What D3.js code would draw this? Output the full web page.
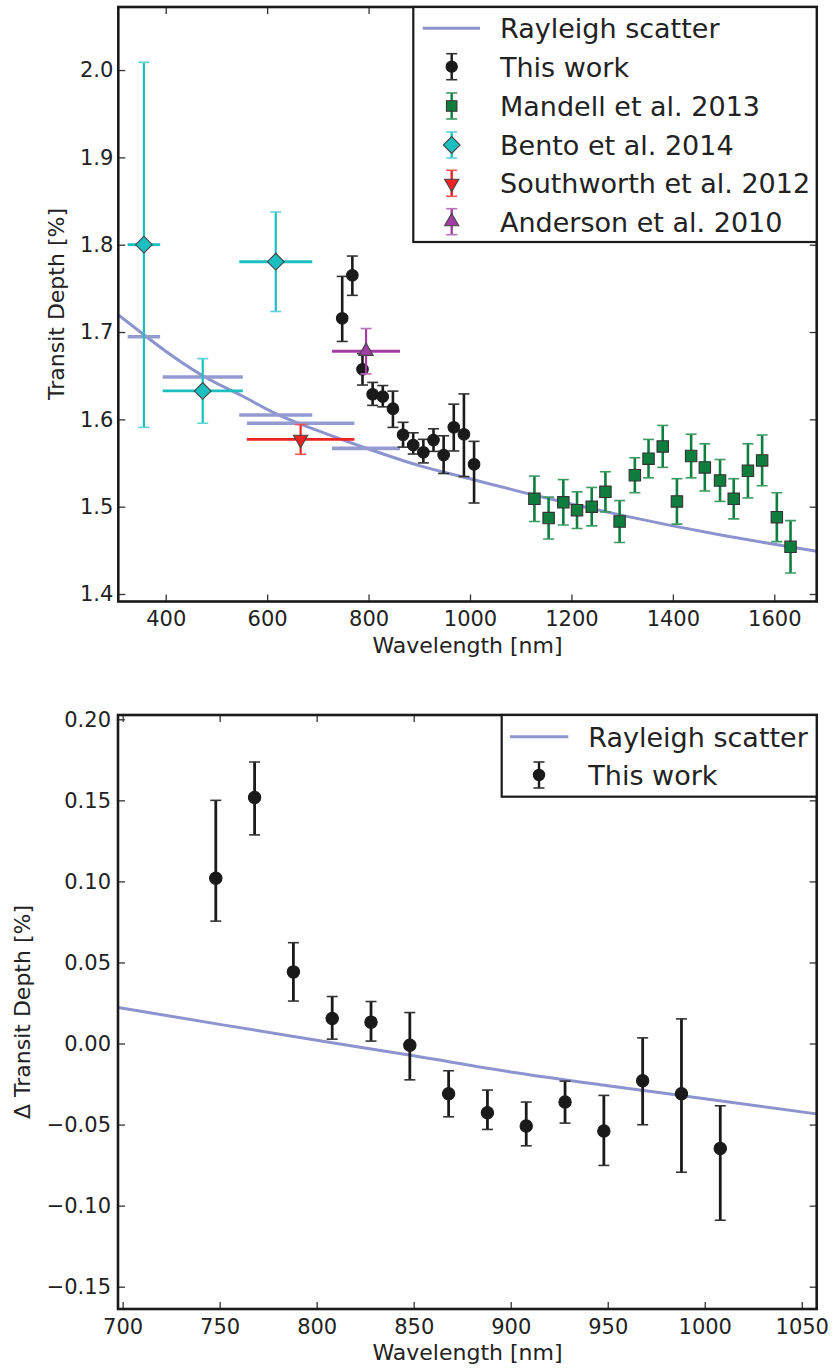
<!DOCTYPE html>
<html>
<head>
<meta charset="utf-8">
<script src="https://cdnjs.cloudflare.com/ajax/libs/d3/7.8.5/d3.min.js"></script>
<style>
  body { margin: 0; background: #fff; }
  svg { display: block; font-family: "DejaVu Sans", sans-serif; }
</style>
</head>
<body>
<script>
// ---- data ----
// Rayleigh scatter model, top panel
var rayWave = [306, 350, 400, 473, 550, 619, 700, 800, 900, 1000, 1100, 1200, 1300, 1400, 1500, 1600, 1684];
var rayDepth = [1.720, 1.700, 1.678, 1.650, 1.627, 1.606, 1.587, 1.566, 1.547, 1.532, 1.517, 1.503, 1.490, 1.478, 1.467, 1.457, 1.449];

// model binned to the literature bandpasses
var binWave = [357, 473, 617, 666, 795];
var binHalf = [32, 79, 72, 106, 67];
var binDepth = [1.6946, 1.6485, 1.605, 1.5955, 1.5668];

// this work
var workWave = [748, 768, 788, 808, 828, 848, 868, 888, 908, 928, 948, 968, 988, 1008];
var workDepth = [1.7157, 1.765, 1.6573, 1.6287, 1.626, 1.6122, 1.5824, 1.5706, 1.5623, 1.5763, 1.5592, 1.5909, 1.5829, 1.5485];
var workDelta = [0.102, 0.1517, 0.0442, 0.0154, 0.0132, -0.001, -0.031, -0.0427, -0.0509, -0.0361, -0.054, -0.023, -0.031, -0.0647];
var workErrUp = [0.048, 0.022, 0.018, 0.0136, 0.0127, 0.0201, 0.0142, 0.014, 0.0148, 0.0129, 0.022, 0.0265, 0.0462, 0.0263];
var workErrDown = [0.0265, 0.023, 0.018, 0.0127, 0.0117, 0.0214, 0.0142, 0.0103, 0.0122, 0.013, 0.0212, 0.0271, 0.0484, 0.0443];

// Mandell et al. 2013
var mandWave = [1127, 1155, 1184, 1211, 1240, 1267, 1295, 1325, 1352, 1380, 1408, 1436, 1463, 1493, 1520, 1548, 1576, 1605, 1632];
var mandDepth = [1.509, 1.487, 1.505, 1.496, 1.500, 1.517, 1.483, 1.536, 1.555, 1.569, 1.506, 1.558, 1.545, 1.530, 1.509, 1.541, 1.553, 1.488, 1.454];
var mandErr = [0.026, 0.024, 0.026, 0.021, 0.022, 0.023, 0.024, 0.020, 0.022, 0.024, 0.026, 0.025, 0.027, 0.024, 0.023, 0.031, 0.029, 0.028, 0.030];

// Bento et al. 2014
var bentoWave = [357, 473, 617];
var bentoHalf = [32, 79, 72];
var bentoDepth = [1.800, 1.6325, 1.7805];
var bentoErr = [0.209, 0.037, 0.057];

// Southworth et al. 2012, Anderson et al. 2010
var southWave = [666], southHalf = [106], southDepth = [1.577], southErr = [0.017];
var andWave = [795], andHalf = [67], andDepth = [1.678], andErr = [0.026];

// Rayleigh scatter model, bottom panel
var rayWave2 = [698, 750, 800, 850, 900, 950, 1000, 1058];
var rayDelta2 = [0.0222, 0.0118, 0.002, -0.0076, -0.0175, -0.026, -0.034, -0.0435];

// ticks
var topXTicks = [400, 600, 800, 1000, 1200, 1400, 1600];
var topYTicks = [1.4, 1.5, 1.6, 1.7, 1.8, 1.9, 2.0];
var botXTicks = [700, 750, 800, 850, 900, 950, 1000, 1050];
var botYTicks = [-0.15, -0.10, -0.05, 0.00, 0.05, 0.10, 0.15, 0.20];

var topLegend = ["Rayleigh scatter", "This work", "Mandell et al. 2013", "Bento et al. 2014", "Southworth et al. 2012", "Anderson et al. 2010"];
var botLegend = ["Rayleigh scatter", "This work"];

// ---- colours ----
var cRay = "#8d93cf", cBin = "#959bd0";
var cGreen = "#0f7d3d", cCyan = "#1cbfbf", cRed = "#ee2222", cPurple = "#a23ea3";

var svg = d3.select("body").append("svg")
  .attr("width", 834)
  .attr("height", 1369);

svg.append("rect").attr("width", 834).attr("height", 1369).attr("fill", "#fff");

function zip(xs, ys) {
  return xs.map(function (d, i) { return [d, ys[i]]; });
}

function axes(g, x, y, xt, yt, xf, yf, yPad) {
  var x0 = x.range()[0], x1 = x.range()[1], y0 = y.range()[0], y1 = y.range()[1];
  var styleAxis = function (a, labels) {
    a.select(".domain").remove();
    a.selectAll(".tick line").attr("stroke", "#333").attr("stroke-width", 1.3);
    a.selectAll("text").attr("font-size", "21px").attr("fill", "#222").attr("font-family", "DejaVu Sans");
    if (!labels) a.selectAll("text").remove();
  };
  g.append("g").attr("transform", "translate(0," + y0 + ")")
    .call(d3.axisBottom(x).tickValues(xt).tickFormat(xf).tickSize(-7).tickPadding(10))
    .call(styleAxis, true);
  g.append("g").attr("transform", "translate(0," + y1 + ")")
    .call(d3.axisTop(x).tickValues(xt).tickSize(-7))
    .call(styleAxis, false);
  g.append("g").attr("transform", "translate(" + x0 + ",0)")
    .call(d3.axisLeft(y).tickValues(yt).tickFormat(yf).tickSize(-7).tickPadding(yPad))
    .call(styleAxis, true);
  g.append("g").attr("transform", "translate(" + x1 + ",0)")
    .call(d3.axisRight(y).tickValues(yt).tickSize(-7))
    .call(styleAxis, false);
}

function spines(g, x, y) {
  g.append("rect")
    .attr("x", x.range()[0])
    .attr("y", y.range()[1])
    .attr("width", x.range()[1] - x.range()[0])
    .attr("height", y.range()[0] - y.range()[1])
    .attr("fill", "none")
    .attr("stroke", "#1a1a1a")
    .attr("stroke-width", 2.6);
}

function yErr(g, x, y, wave, val, up, down, color, w, capColor) {
  var d = wave.map(function (v, i) { return { w: v, v: val[i], u: up[i], l: down[i] }; });
  g.selectAll(null).data(d).enter().append("line")
    .attr("x1", function (p) { return x(p.w); })
    .attr("x2", function (p) { return x(p.w); })
    .attr("y1", function (p) { return y(p.v + p.u); })
    .attr("y2", function (p) { return y(p.v - p.l); })
    .attr("stroke", color).attr("stroke-width", w);
  [1, -1].forEach(function (s) {
    g.selectAll(null).data(d).enter().append("line")
      .attr("x1", function (p) { return x(p.w) - 5.5; })
      .attr("x2", function (p) { return x(p.w) + 5.5; })
      .attr("y1", function (p) { return y(s > 0 ? p.v + p.u : p.v - p.l); })
      .attr("y2", function (p) { return y(s > 0 ? p.v + p.u : p.v - p.l); })
      .attr("stroke", capColor).attr("stroke-width", 1.6);
  });
}

function xErr(g, x, y, wave, half, val, color, w) {
  g.selectAll(null).data(wave).enter().append("line")
    .attr("x1", function (d, i) { return x(d - half[i]); })
    .attr("x2", function (d, i) { return x(d + half[i]); })
    .attr("y1", function (d, i) { return y(val[i]); })
    .attr("y2", function (d, i) { return y(val[i]); })
    .attr("stroke", color).attr("stroke-width", w);
}

function markers(g, x, y, wave, val, type, size, fill, edge, rot) {
  g.selectAll(null).data(wave).enter().append("path")
    .attr("d", d3.symbol().type(type).size(size))
    .attr("transform", function (d, i) { return "translate(" + x(d) + "," + y(val[i]) + ") rotate(" + (rot || 0) + ")"; })
    .attr("fill", fill)
    .attr("stroke", edge)
    .attr("stroke-width", 1.1);
}

// legend
function legend(g, x0, y0, x1, y1, names, rows, markerX, lineX0, lineX1, textX) {
  g.append("rect").attr("x", x0).attr("y", y0).attr("width", x1 - x0).attr("height", y1 - y0)
    .attr("fill", "#fff").attr("stroke", "#1a1a1a").attr("stroke-width", 2.2);
  var styles = [
    null,
    { c: "#1a1a1a", cap: "#333", t: d3.symbolCircle, s: 100, f: "#1a1a1a", e: "#1a1a1a", r: 0 },
    { c: cGreen, cap: "#3c9a62", t: d3.symbolSquare, s: 110, f: cGreen, e: "#333", r: 0 },
    { c: cCyan, cap: "#5fd3d3", t: d3.symbolSquare, s: 140, f: cCyan, e: "#444", r: 45 },
    { c: cRed, cap: "#f05555", t: d3.symbolTriangle, s: 88, f: cRed, e: "#444", r: 180 },
    { c: cPurple, cap: "#b870b8", t: d3.symbolTriangle, s: 88, f: cPurple, e: "#444", r: 0 }
  ];
  names.forEach(function (name, i) {
    var yy = rows[i];
    if (i === 0) {
      g.append("line").attr("x1", lineX0).attr("x2", lineX1).attr("y1", yy).attr("y2", yy)
        .attr("stroke", cRay).attr("stroke-width", 3);
    } else {
      var s = styles[i];
      g.append("line").attr("x1", markerX).attr("x2", markerX).attr("y1", yy - 13).attr("y2", yy + 13)
        .attr("stroke", s.c).attr("stroke-width", 2.4);
      [-13, 13].forEach(function (o) {
        g.append("line").attr("x1", markerX - 5.5).attr("x2", markerX + 5.5).attr("y1", yy + o).attr("y2", yy + o)
          .attr("stroke", s.cap).attr("stroke-width", 1.6);
      });
      g.append("path").attr("d", d3.symbol().type(s.t).size(s.s)())
        .attr("transform", "translate(" + markerX + "," + yy + ") rotate(" + s.r + ")")
        .attr("fill", s.f).attr("stroke", s.e).attr("stroke-width", 1.1);
    }
    g.append("text").attr("x", textX).attr("y", yy + 10).attr("font-size", "27px").attr("fill", "#222").text(name);
  });
}

// ================= top panel =================
var xT = d3.scaleLinear().domain([306.5, 1683.6]).range([118.3, 816.7]);
var yT = d3.scaleLinear().domain([1.39141, 2.0722]).range([601.5, 7]);

var topG = svg.append("g");
svg.append("clipPath").attr("id", "clipT").append("rect")
  .attr("x", 118.3).attr("y", 7).attr("width", 816.7 - 118.3).attr("height", 601.5 - 7);
var pT = topG.append("g").attr("clip-path", "url(#clipT)");

pT.append("path")
  .datum(zip(rayWave, rayDepth))
  .attr("d", d3.line().x(function (d) { return xT(d[0]); }).y(function (d) { return yT(d[1]); }).curve(d3.curveMonotoneX))
  .attr("fill", "none").attr("stroke", cRay).attr("stroke-width", 3);

xErr(pT, xT, yT, binWave, binHalf, binDepth, cBin, 3.6);

// this work
yErr(pT, xT, yT, workWave, workDepth, workErrUp, workErrDown, "#1a1a1a", 2.6, "#333");
markers(pT, xT, yT, workWave, workDepth, d3.symbolCircle, 105, "#1a1a1a", "#1a1a1a");

// Mandell
yErr(pT, xT, yT, mandWave, mandDepth, mandErr, mandErr, cGreen, 2.6, "#3c9a62");
markers(pT, xT, yT, mandWave, mandDepth, d3.symbolSquare, 130, cGreen, "#333");

// Bento
yErr(pT, xT, yT, bentoWave, bentoDepth, bentoErr, bentoErr, cCyan, 2.2, "#5fd3d3");
xErr(pT, xT, yT, bentoWave, bentoHalf, bentoDepth, cCyan, 2.8);
markers(pT, xT, yT, bentoWave, bentoDepth, d3.symbolSquare, 140, cCyan, "#444", 45);

// Southworth
yErr(pT, xT, yT, southWave, southDepth, southErr, southErr, cRed, 2.2, "#f05555");
xErr(pT, xT, yT, southWave, southHalf, southDepth, cRed, 2.8);
markers(pT, xT, yT, southWave, southDepth, d3.symbolTriangle, 88, cRed, "#444", 180);

// Anderson
yErr(pT, xT, yT, andWave, andDepth, andErr, andErr, cPurple, 2.2, "#b870b8");
xErr(pT, xT, yT, andWave, andHalf, andDepth, cPurple, 2.8);
markers(pT, xT, yT, andWave, andDepth, d3.symbolTriangle, 88, cPurple, "#444", 0);

axes(topG, xT, yT, topXTicks, topYTicks, d3.format("d"), d3.format(".1f"), 5);
spines(topG, xT, yT);

topG.append("text").attr("x", 467.5).attr("y", 652.5).attr("text-anchor", "middle")
  .attr("font-size", "22px").attr("fill", "#222").text("Wavelength [nm]");
topG.append("text").attr("transform", "translate(64,304) rotate(-90)").attr("text-anchor", "middle")
  .attr("font-size", "22px").attr("fill", "#222").text("Transit Depth [%]");

legend(topG, 413.3, 7, 816.7, 242, topLegend, [28.3, 66.7, 106, 145, 183.3, 221.7], 451.7, 422.7, 480, 500);

// ================= bottom panel =================
var xB = d3.scaleLinear().domain([697.6, 1057.7]).range([118, 816.7]);
var yB = d3.scaleLinear().domain([-0.16376, 0.20265]).range([1309, 715]);

var botG = svg.append("g");
svg.append("clipPath").attr("id", "clipB").append("rect")
  .attr("x", 118).attr("y", 715).attr("width", 816.7 - 118).attr("height", 1309 - 715);
var pB = botG.append("g").attr("clip-path", "url(#clipB)");

pB.append("path")
  .datum(zip(rayWave2, rayDelta2))
  .attr("d", d3.line().x(function (d) { return xB(d[0]); }).y(function (d) { return yB(d[1]); }).curve(d3.curveMonotoneX))
  .attr("fill", "none").attr("stroke", cRay).attr("stroke-width", 3);

yErr(pB, xB, yB, workWave, workDelta, workErrUp, workErrDown, "#1a1a1a", 2.8, "#333");
markers(pB, xB, yB, workWave, workDelta, d3.symbolCircle, 120, "#1a1a1a", "#1a1a1a");

axes(botG, xB, yB, botXTicks, botYTicks, d3.format("d"), d3.format(".2f"), 7);
spines(botG, xB, yB);

botG.append("text").attr("x", 467.5).attr("y", 1360).attr("text-anchor", "middle")
  .attr("font-size", "22px").attr("fill", "#222").text("Wavelength [nm]");
botG.append("text").attr("transform", "translate(30,1012) rotate(-90)").attr("text-anchor", "middle")
  .attr("font-size", "22px").attr("fill", "#222").text("\u0394 Transit Depth [%]");

legend(botG, 501.7, 715, 816.7, 796.7, botLegend, [736.7, 775], 539, 510, 568.3, 588.3);
</script>
</body>
</html>
